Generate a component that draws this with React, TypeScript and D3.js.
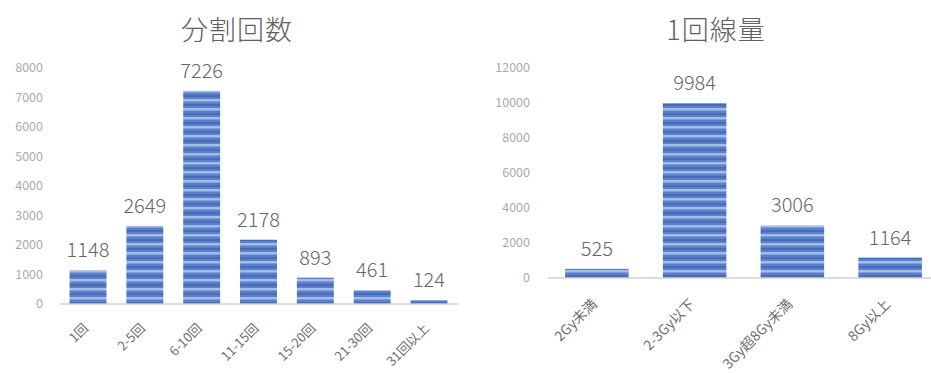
import React from "react";
import * as d3 from "d3";

const leftTitle = "分割回数";
const leftCategories = ["1回", "2-5回", "6-10回", "11-15回", "15-20回", "21-30回", "31回以上"];
const leftValues = [1148, 2649, 7226, 2178, 893, 461, 124];
const leftTicks = [0, 1000, 2000, 3000, 4000, 5000, 6000, 7000, 8000];

const rightTitle = "1回線量";
const rightCategories = ["2Gy未満", "2-3Gy以下", "3Gy超8Gy未満", "8Gy以上"];
const rightValues = [525, 9984, 3006, 1164];
const rightTicks = [0, 2000, 4000, 6000, 8000, 10000, 12000];

const FONT = "'Noto Sans CJK JP', 'Noto Sans', sans-serif";

type PanelProps = {
  title: string;
  titleX: number;
  categories: string[];
  values: number[];
  ticks: number[];
  x0: number;
  x1: number;
  yBase: number;
  yTop: number;
  yMax: number;
  tickRight: number;
  axisEnd: number;
  catFont: number;
  catDy: number;
};

function Panel(p: PanelProps) {
  const x = d3.scaleBand<string>().domain(p.categories).range([p.x0, p.x1]).paddingInner(0.35).paddingOuter(0.175);
  const y = d3.scaleLinear().domain([0, p.yMax]).range([p.yBase, p.yTop]);
  return (
    <g>
      <text x={p.titleX} y={40} textAnchor="middle" fontSize={27} fontWeight={300} letterSpacing={1} fill="#606060" fontFamily={FONT}>
        {p.title}
      </text>
      {p.ticks.map((t) => (
        <text key={t} x={p.tickRight} y={y(t) + 4} textAnchor="end" fontSize={12.5} fill="#ababab" fontFamily={FONT}>
          {t}
        </text>
      ))}
      {p.values.map((v, i) => {
        const c = p.categories[i];
        const bx = x(c)!;
        return (
          <g key={c}>
            <rect x={bx} y={y(v)} width={x.bandwidth()} height={p.yBase - y(v)} fill="url(#stripes)" />
            <text x={bx + x.bandwidth() / 2} y={y(v) - 13} textAnchor="middle" fontSize={20} fontWeight={300} fill="#666666" fontFamily={FONT}>
              {v}
            </text>
          </g>
        );
      })}
      <line x1={p.x0} x2={p.axisEnd} y1={p.yBase} y2={p.yBase} stroke="#d0d0d0" strokeWidth={1.5} />
      {p.categories.map((c) => {
        const cx = x(c)! + x.bandwidth() / 2;
        return (
          <text
            key={c}
            transform={`translate(${cx + 1},${p.yBase + p.catDy}) rotate(-45)`}
            textAnchor="end"
            fontSize={p.catFont}
            fill="#707070"
            fontFamily={FONT}
          >
            {c}
          </text>
        );
      })}
    </g>
  );
}

export default function App() {
  return (
    <svg width={931} height={373} style={{ position: "absolute", left: 0, top: 0, background: "#fff" }}>
      <defs>
        <pattern id="stripes" patternUnits="userSpaceOnUse" width={10} height={9}>
          <rect x={0} y={0} width={10} height={9} fill="#5b7fc9" />
          <rect x={0} y={0} width={10} height={2.5} fill="#a3bdea" />
          <rect x={0} y={5} width={10} height={2} fill="#4a6cb8" />
        </pattern>
      </defs>
      <rect width={931} height={373} fill="#fff" />
      <Panel
        title={leftTitle}
        titleX={237}
        categories={leftCategories}
        values={leftValues}
        ticks={leftTicks}
        x0={59.6}
        x1={457.4}
        yBase={304}
        yTop={68}
        yMax={8000}
        tickRight={43}
        axisEnd={459}
        catFont={13}
        catDy={25}
      />
      <Panel
        title={rightTitle}
        titleX={716}
        categories={rightCategories}
        values={rightValues}
        ticks={rightTicks}
        x0={548}
        x1={939}
        yBase={278}
        yTop={68}
        yMax={12000}
        tickRight={530}
        axisEnd={931}
        catFont={14}
        catDy={27}
      />
    </svg>
  );
}
